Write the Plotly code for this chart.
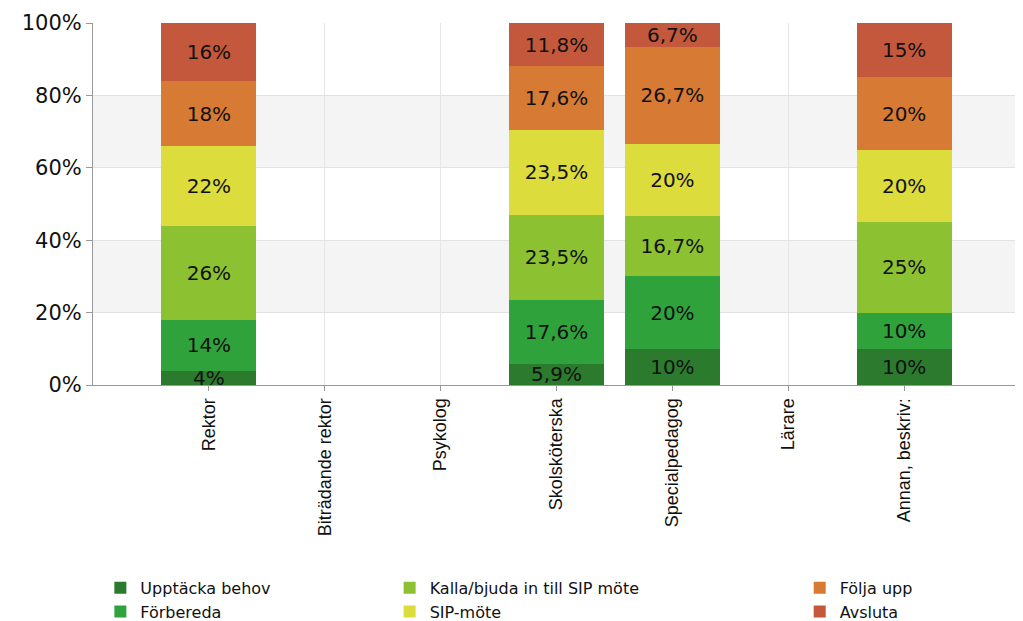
import plotly.graph_objects as go

categories = ["Rektor", "Biträdande rektor", "Psykolog", "Skolsköterska",
              "Specialpedagog", "Lärare", "Annan, beskriv:"]

upptacka = [4, None, None, 5.9, 10, None, 10]
forbereda = [14, None, None, 17.6, 20, None, 10]
kalla = [26, None, None, 23.5, 16.7, None, 25]
sip_mote = [22, None, None, 23.5, 20, None, 20]
folja_upp = [18, None, None, 17.6, 26.7, None, 20]
avsluta = [16, None, None, 11.8, 6.7, None, 15]

series = [
    ("Upptäcka behov", upptacka, "#2b7a2e", "legend"),
    ("Förbereda", forbereda, "#2fa23c", "legend"),
    ("Kalla/bjuda in till SIP möte", kalla, "#8cc232", "legend2"),
    ("SIP-möte", sip_mote, "#dcdc3c", "legend2"),
    ("Följa upp", folja_upp, "#d67a34", "legend3"),
    ("Avsluta", avsluta, "#c4583c", "legend3"),
]


def pct(v):
    if v is None:
        return ""
    return ("%g" % v).replace(".", ",") + "%"


fig = go.Figure()
for name, vals, color, leg in series:
    fig.add_trace(go.Bar(
        x=categories, y=vals, name=name,
        marker=dict(color=color, line=dict(width=0)),
        text=[pct(v) for v in vals],
        textposition="inside", insidetextanchor="middle",
        textfont=dict(color="#111111", size=20, family="DejaVu Sans"),
        constraintext="none",
        legend=leg,
    ))

# alternating background bands
for y0, y1 in [(20, 40), (60, 80)]:
    fig.add_shape(type="rect", xref="paper", yref="y", x0=0, x1=1, y0=y0, y1=y1,
                  fillcolor="#f4f4f4", line_width=0, layer="below")

# page body has an 8px margin, so the figure is a bit smaller than the window
legend_common = dict(orientation="v", yref="container", xref="container",
                     yanchor="top", y=0.082, xanchor="left",
                     bgcolor="rgba(0,0,0,0)", itemwidth=30, tracegroupgap=0,
                     traceorder="normal",
                     font=dict(size=16, color="#111111", family="DejaVu Sans"))

fig.update_layout(
    width=1015, height=613,
    barmode="stack", bargap=0.18,
    plot_bgcolor="white", paper_bgcolor="white",
    margin=dict(l=85, r=3, t=15, b=236, autoexpand=False),
    font=dict(family="Liberation Sans, Arial", color="#111111", size=17),
    legend=dict(x=0.091, **legend_common),
    legend2=dict(x=0.376, **legend_common),
    legend3=dict(x=0.780, **legend_common),
    xaxis=dict(
        range=[-1, 7], tickangle=-90, showgrid=True, gridcolor="#e6e6e6",
        showline=True, linecolor="#999999", ticks="outside", ticklen=5,
        tickcolor="#999999", tickfont=dict(size=18), zeroline=False,
        automargin=False,
    ),
    yaxis=dict(
        range=[0, 100], ticksuffix="%", dtick=20, showgrid=True, gridcolor="#e2e2e2",
        showline=True, linecolor="#999999", ticks="outside", ticklen=6,
        tickcolor="#999999", tickfont=dict(size=21, family="DejaVu Sans"),
        zeroline=False, automargin=False,
    ),
)

fig.write_html("out.html")
